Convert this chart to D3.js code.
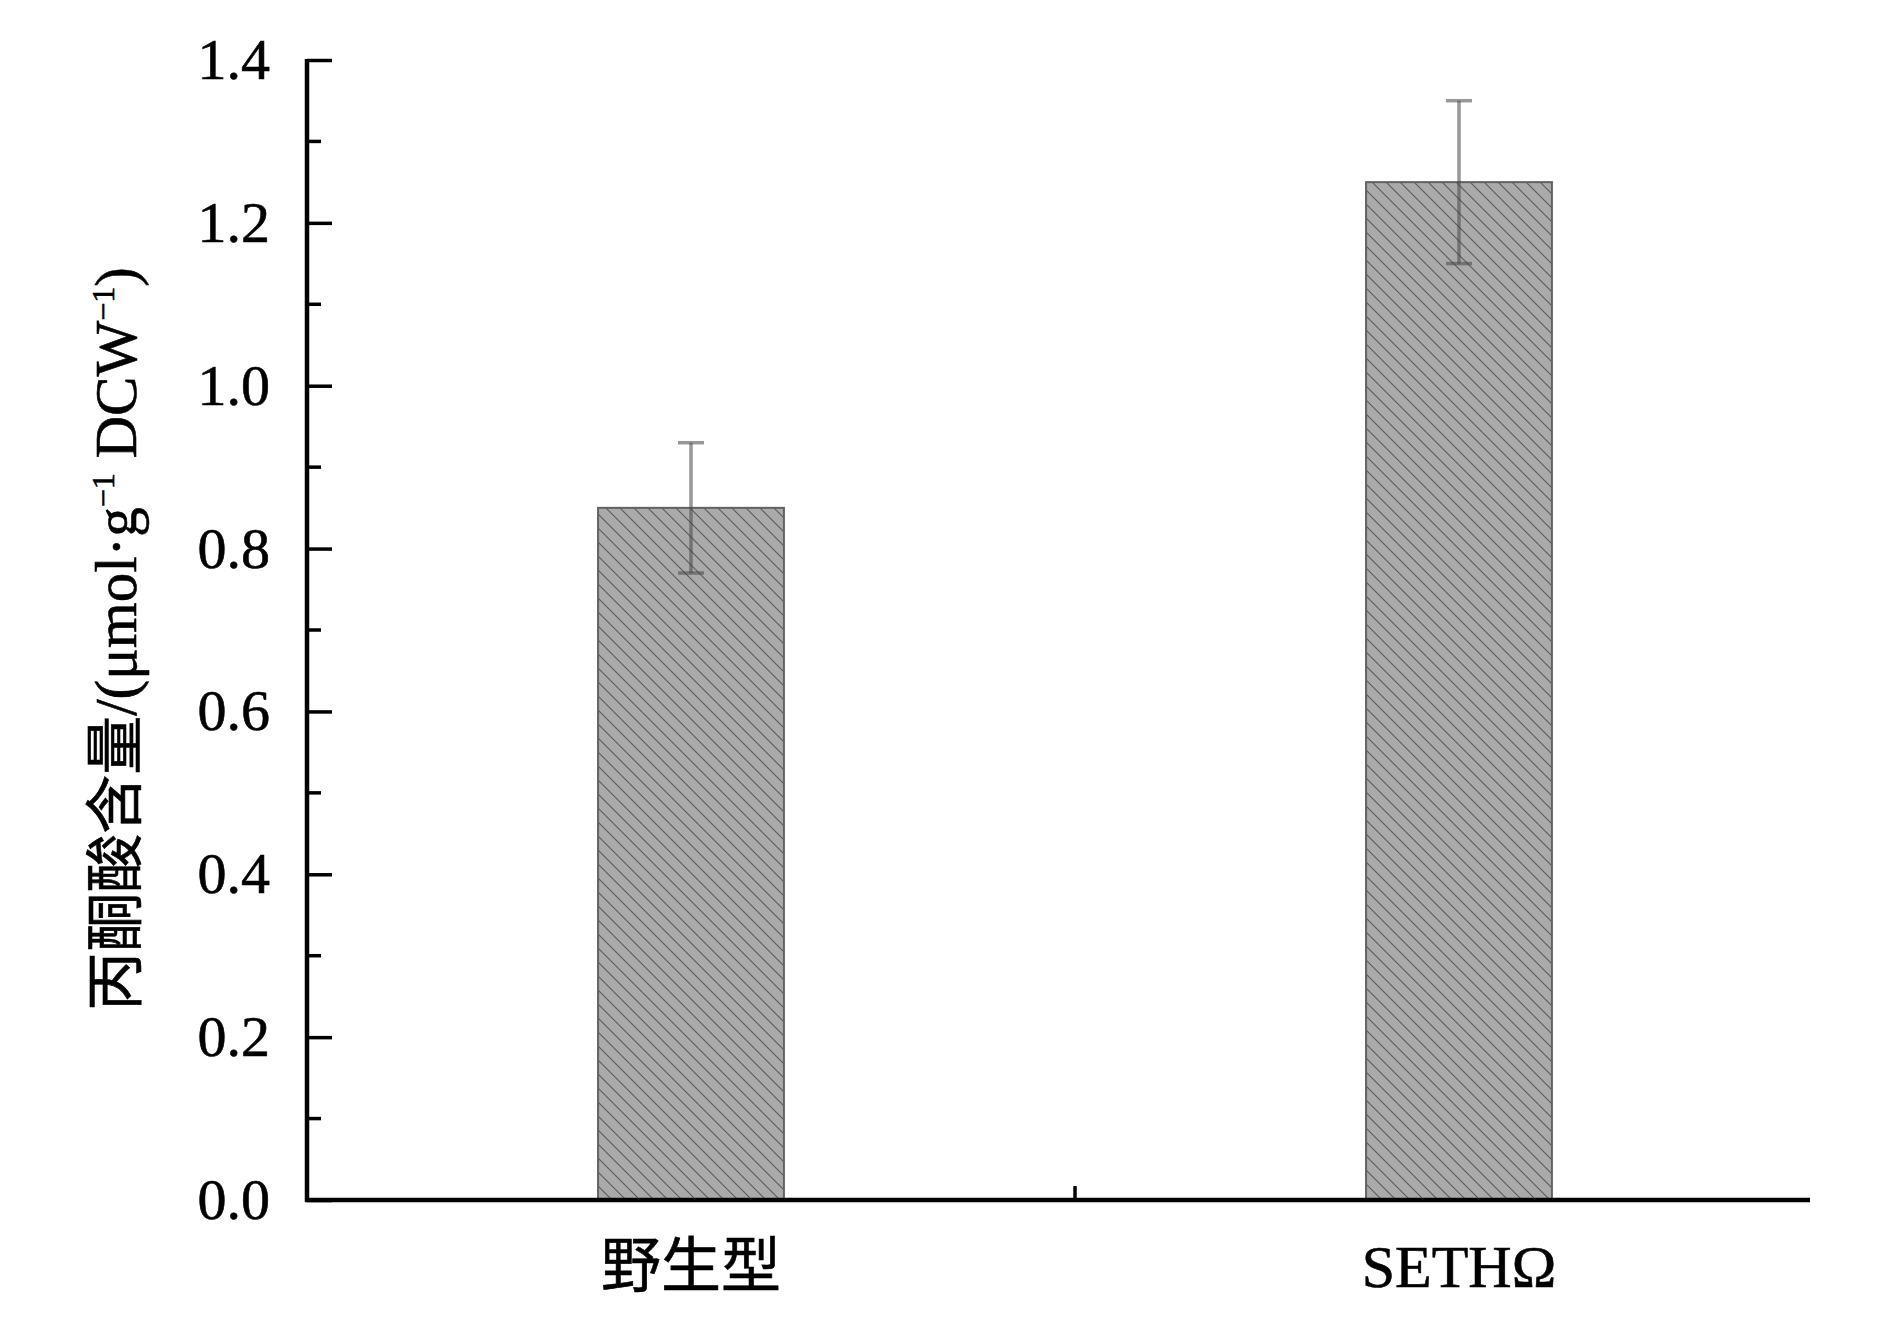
<!DOCTYPE html>
<html><head><meta charset="utf-8">
<script src="https://cdn.jsdelivr.net/npm/d3@7"></script>
<style>body{margin:0;background:#fff}svg{display:block}</style>
</head><body>
<script>
const categories = ["野生型", "SETHΩ"];
const values = [0.85, 1.25];
const errors = [0.08, 0.10];
const yTicks = [0.0, 0.2, 0.4, 0.6, 0.8, 1.0, 1.2, 1.4];

const W = 1890, H = 1325;
const x0 = 307, x1 = 1810, yTop = 60, yBot = 1200;
const svg = d3.select("body").append("svg").attr("width", W).attr("height", H);

const defs = svg.append("defs");
const pat = defs.append("pattern").attr("id", "hatch").attr("patternUnits", "userSpaceOnUse")
  .attr("width", 14).attr("height", 14);
pat.append("rect").attr("width", 14).attr("height", 14).attr("fill", "#aaaaaa");
pat.append("path").attr("d", "M0,0L14,14M-7,7L7,21M7,-7L21,7")
  .attr("stroke", "#5a5a5a").attr("stroke-width", 1.1);

const x = d3.scaleBand().domain(categories).range([x0, x0 + 2 * 768]).paddingInner(0.758).paddingOuter(0.379);
const y = d3.scaleLinear().domain([0, 1.4]).range([yBot, yTop]);

const font = "'Liberation Serif', 'Times New Roman', 'Noto Sans CJK SC', serif";

// bars
svg.selectAll("rect.bar").data(values).enter().append("rect")
  .attr("x", (d, i) => x(categories[i]))
  .attr("width", x.bandwidth())
  .attr("y", d => y(d))
  .attr("height", d => y(0) - y(d))
  .attr("fill", "url(#hatch)")
  .attr("stroke", "#626262").attr("stroke-width", 2);

// error bars
const eg = svg.append("g").attr("stroke", "rgba(70,70,70,0.55)").attr("stroke-width", 3.5);
values.forEach((v, i) => {
  const cx = x(categories[i]) + x.bandwidth() / 2;
  eg.append("line").attr("x1", cx).attr("x2", cx).attr("y1", y(v + errors[i])).attr("y2", y(v - errors[i]));
  eg.append("line").attr("x1", cx - 13).attr("x2", cx + 13).attr("y1", y(v + errors[i])).attr("y2", y(v + errors[i]));
  eg.append("line").attr("x1", cx - 13).attr("x2", cx + 13).attr("y1", y(v - errors[i])).attr("y2", y(v - errors[i]));
});

// y axis
const yAxis = d3.axisLeft(y).tickValues(yTicks).tickFormat(d3.format(".1f")).tickSize(-25).tickPadding(37);
const gy = svg.append("g").attr("transform", `translate(${x0},0)`).call(yAxis);
gy.select(".domain").remove();
gy.selectAll(".tick line").attr("stroke", "#000").attr("stroke-width", 3.5);
gy.selectAll(".tick text").attr("font-family", font).attr("font-size", 58).attr("fill", "#000")
  .attr("stroke", "#000").attr("stroke-width", 0.6);
// minor ticks
const minor = d3.range(0.1, 1.4, 0.2);
svg.append("g").selectAll("line").data(minor).enter().append("line")
  .attr("x1", x0).attr("x2", x0 + 14).attr("y1", d => y(d)).attr("y2", d => y(d))
  .attr("stroke", "#000").attr("stroke-width", 3.5);

// axis lines
svg.append("line").attr("x1", x0).attr("x2", x0).attr("y1", yTop - 1).attr("y2", yBot + 2)
  .attr("stroke", "#000").attr("stroke-width", 4.5);
svg.append("line").attr("x1", x0 - 2).attr("x2", x1).attr("y1", yBot).attr("y2", yBot)
  .attr("stroke", "#000").attr("stroke-width", 4.5);

// x category tick between categories
const midX = (x(categories[0]) + x(categories[1]) + x.bandwidth()) / 2;
svg.append("line").attr("x1", midX).attr("x2", midX).attr("y1", yBot).attr("y2", yBot - 14)
  .attr("stroke", "#000").attr("stroke-width", 3.5);

// x labels
svg.append("g").selectAll("text").data(categories).enter().append("text")
  .attr("x", d => x(d) + x.bandwidth() / 2)
  .attr("y", 1287)
  .attr("text-anchor", "middle")
  .attr("font-family", font).attr("font-size", 60).attr("fill", "#000")
  .attr("stroke", "#000").attr("stroke-width", 0.6)
  .text(d => d);

// y title
const t = svg.append("text").attr("transform", `translate(136,${(yTop + yBot) / 2 + 9}) rotate(-90)`)
  .attr("text-anchor", "middle").attr("font-family", font).attr("font-size", 59).attr("fill", "#000")
  .attr("stroke", "#000").attr("stroke-width", 0.6);
t.append("tspan").text("丙酮酸含量/(μmol·g");
t.append("tspan").attr("dy", -22).attr("font-size", 32).text("−1");
t.append("tspan").attr("dy", 22).text(" DCW");
t.append("tspan").attr("dy", -22).attr("font-size", 32).text("−1");
t.append("tspan").attr("dy", 22).text(")");
</script>
</body></html>
